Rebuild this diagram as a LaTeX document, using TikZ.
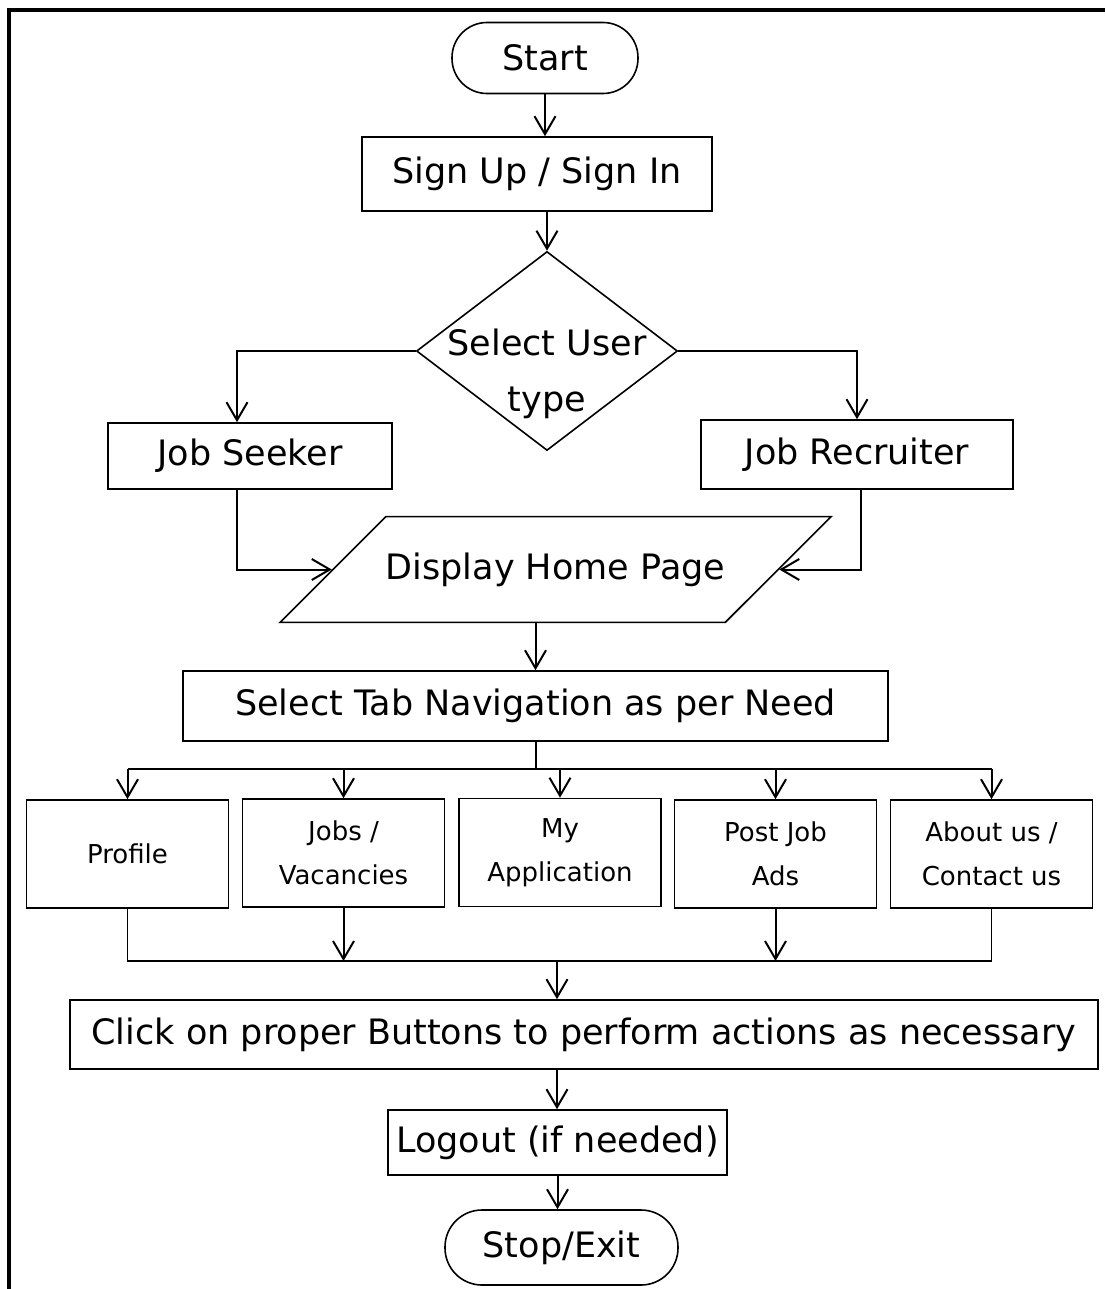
\documentclass[tikz,border=0pt]{standalone}
\usepackage{fontspec}
\setmainfont{DejaVu Sans}
\usetikzlibrary{shapes.geometric, arrows.meta}

\begin{document}
\begin{tikzpicture}[x=0.5pt, y=-0.5pt,
    box/.style={draw, line width=0.8pt, inner sep=0pt, align=center, font=\fontsize{17.5}{28}\selectfont},
    tabbox/.style={box, minimum width=101pt, minimum height=54pt, font=\fontsize{13}{22}\selectfont},
    term/.style={box, rounded corners=17.5pt},
    arr/.style={-{Straight Barb[length=9pt, width=10.5pt]}, line width=1pt}]
    \useasboundingbox (0,0) rectangle (1105,1289);
    \draw[line width=1.6pt] (9,1289) -- (9,10) -- (1105,10);
    \node[term, minimum width=93pt, minimum height=35.5pt] (start) at (545,58) {Start};
    \node[box, minimum width=175pt, minimum height=37pt] (signup) at (537,174) {Sign Up / Sign In};
    \node[box, diamond, minimum width=130.5pt, minimum height=99.5pt] (select) at (547,351) {};
    \node[align=center, inner sep=0pt, font=\fontsize{17.5}{28}\selectfont] (selecttext) at (547,374) {Select User\\type};
    \node[box, minimum width=142pt, minimum height=33pt] (seeker) at (250,456) {Job Seeker};
    \node[box, minimum width=156pt, minimum height=34.5pt] (recruiter) at (857,454.5) {Job Recruiter};
    \node[box, trapezium, trapezium left angle=45, trapezium right angle=135, trapezium stretches body,
        inner xsep=0pt, inner ysep=18pt, minimum width=267pt] (home) at (555.5,569.5) {Display Home Page};
    \node[box, minimum width=352.5pt, minimum height=35pt] (tab) at (535.5,706) {Select Tab Navigation as per Need};
    \coordinate (bus) at (538,769);
    \node[tabbox] (profile) at (127.5,854) {Profile};
    \node[tabbox] (jobs) at (343.5,853) {Jobs /\\Vacancies};
    \node[tabbox] (myapp) at (560,852.5) {My\\Application};
    \node[tabbox] (post) at (775.5,854) {Post Job\\Ads};
    \node[tabbox] (about) at (991.5,854) {About us /\\Contact us};
    \coordinate (merge) at (557,961);
    \node[box, minimum width=514pt, minimum height=34.5pt] (click) at (584,1034.5) {Click on proper Buttons to perform actions as necessary};
    \node[box, minimum width=169.5pt, minimum height=32.5pt] (logout) at (557.5,1142.5) {Logout (if needed)};
    \node[term, minimum width=116.5pt, minimum height=37.5pt, rounded corners=18.5pt] (stop) at (561.5,1247.5) {Stop/Exit};
    \draw[arr] (start.south) -- (start.south |- signup.north);
    \draw[arr] (select.north |- signup.south) -- (select.north);
    \draw[arr] (select.west) -| ([xshift=-6.5pt]seeker.north);
    \draw[arr] (select.east) -| (recruiter.north);
    \draw[arr] ([xshift=-6.5pt]seeker.south) |- (home.west);
    \draw[arr] ([xshift=2pt]recruiter.south) |- (home.east);
    \draw[arr] (tab.north |- home.south) -- (tab.north);
    \draw[line width=1pt] (tab.south) -- (tab.south |- bus);
    \draw[line width=1pt] (profile.north |- bus) -- (about.north |- bus);
    \foreach \n in {profile, jobs, myapp, post, about}
        \draw[arr] (\n.north |- bus) -- (\n.north);
    \draw[line width=0.8pt] (profile.south) |- (merge) -| (about.south);
    \draw[arr] (jobs.south) -- (jobs.south |- merge);
    \draw[arr] (post.south) -- (post.south |- merge);
    \draw[arr] (merge) -- (merge |- click.north);
    \draw[arr] (merge |- click.south) -- (merge |- logout.north);
    \draw[arr] (logout.south) -- (logout.south |- stop.north);
\end{tikzpicture}
\end{document}
